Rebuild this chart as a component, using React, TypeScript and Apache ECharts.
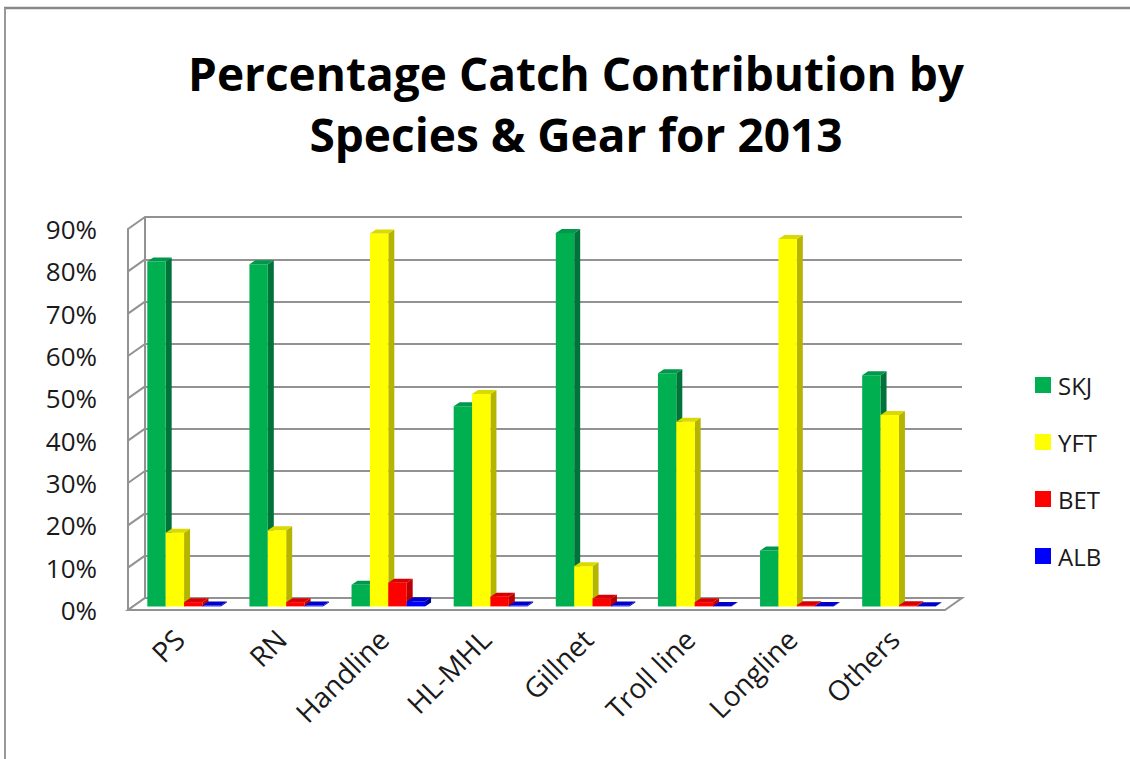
import React, { useEffect, useRef } from "react";
import * as echarts from "echarts";

const categories = ["PS", "RN", "Handline", "HL-MHL", "Gillnet", "Troll line", "Longline", "Others"];
const seriesNames = ["SKJ", "YFT", "BET", "ALB"];
const skj = [81.5, 80.8, 5.1, 47.3, 88.2, 55.1, 13.2, 54.6];
const yft = [17.4, 18.0, 88.1, 50.2, 9.5, 43.6, 86.8, 45.2];
const bet = [1.0, 1.0, 5.6, 2.3, 1.8, 1.0, 0.3, 0.3];
const alb = [0.2, 0.2, 1.2, 0.2, 0.2, 0.1, 0.1, 0.05];
const yTicks = [0, 10, 20, 30, 40, 50, 60, 70, 80, 90];

const faceColors = ["#00B050", "#FFFF00", "#FF0000", "#0000FF"];
const sideColors = ["#00733A", "#B5B500", "#B80000", "#0000A0"];
const topColors = ["#00984A", "#DADA00", "#D80000", "#0000C8"];

// layout
const FRONT_LEFT = 128;
const PLOT_W = 817;
const FRONT_TOP = 229;
const FRONT_H = 381;
const DEPTH_X = 17;
const DEPTH_Y = 12;
const BAR_DX = 5;
const BAR_DY = 3.6;
const SIDE_X = 6;
const SIDE_Y = 4;
const GRID_COLOR = "#929292";
const FONT = "'Open Sans', Lato, sans-serif";

export default function App() {
  const ref = useRef<HTMLDivElement>(null);
  useEffect(() => {
    document.body.style.margin = "0";
    const chart = echarts.init(ref.current!, undefined, { renderer: "svg" });
    const allValues = [skj, yft, bet, alb];

    const barSeries = allValues.map((vals, k) => ({
      type: "custom",
      name: seriesNames[k],
      xAxisIndex: 1,
      yAxisIndex: 1,
      itemStyle: { color: faceColors[k] },
      encode: { x: 0, y: 1 },
      data: vals.map((v, i) => [i, v]),
      z: 5,
      renderItem: (params: any, api: any) => {
        const i = api.value(0);
        const v = api.value(1);
        const base = api.coord([i, 0]);
        const top = api.coord([i, v]);
        const band = api.size([1, 0])[0];
        const bw = band * 0.18;
        const L = base[0] + BAR_DX - 2 * bw + k * bw;
        const R = L + bw;
        const by = base[1] - BAR_DY;
        const ty = top[1] - BAR_DY;
        return {
          type: "group",
          children: [
            {
              type: "polygon",
              shape: { points: [[R, ty], [R + SIDE_X, ty - SIDE_Y], [R + SIDE_X, by - SIDE_Y], [R, by]] },
              style: { fill: sideColors[k] },
            },
            {
              type: "rect",
              shape: { x: L, y: ty, width: bw, height: by - ty },
              style: { fill: faceColors[k] },
            },
            {
              type: "polygon",
              shape: { points: [[L, ty], [L + SIDE_X, ty - SIDE_Y], [R + SIDE_X, ty - SIDE_Y], [R, ty]] },
              style: { fill: topColors[k] },
            },
          ],
        };
      },
    }));

    const wallSeries = {
      type: "custom",
      xAxisIndex: 1,
      yAxisIndex: 1,
      silent: true,
      encode: { x: 0, y: 1 },
      data: yTicks.map((t) => [0, t]),
      z: 1,
      renderItem: (params: any, api: any) => {
        const t = api.value(1);
        const p = api.coord([0, t]);
        const band = api.size([1, 0])[0];
        const x = p[0] - band / 2;
        const children: any[] = [
          {
            type: "line",
            shape: { x1: x, y1: p[1], x2: x + DEPTH_X, y2: p[1] - DEPTH_Y },
            style: { stroke: GRID_COLOR, lineWidth: 2 },
          },
        ];
        if (t === 0) {
          const xr = x + band * categories.length;
          children.push({
            type: "polygon",
            shape: { points: [[x, p[1]], [x + DEPTH_X, p[1] - DEPTH_Y], [xr + DEPTH_X, p[1] - DEPTH_Y], [xr, p[1]]] },
            style: { fill: "#ffffff", stroke: GRID_COLOR, lineWidth: 2 },
          });
        }
        return { type: "group", children };
      },
    };

    chart.setOption({
      animation: false,
      backgroundColor: "#ffffff",
      title: {
        text: "Percentage Catch Contribution by\nSpecies & Gear for 2013",
        left: 571,
        top: 37,
        textAlign: "center",
        textStyle: { fontFamily: FONT, fontWeight: "bold", fontSize: 46, lineHeight: 61, color: "#000" },
      },
      legend: {
        orient: "vertical",
        left: 1030,
        top: 368,
        itemWidth: 16,
        itemHeight: 16,
        itemGap: 33,
        icon: "rect",
        data: seriesNames,
        textStyle: { fontFamily: FONT, fontSize: 24, color: "#1a1a1a", padding: [0, 0, 0, 2] },
      },
      graphic: [
        { type: "line", shape: { x1: 4, y1: 8, x2: 1130, y2: 8 }, style: { stroke: "#888", lineWidth: 2.5 } },
        { type: "line", shape: { x1: 5, y1: 8, x2: 5, y2: 759 }, style: { stroke: "#999", lineWidth: 2 } },
      ],
      grid: [
        { left: FRONT_LEFT + DEPTH_X, top: FRONT_TOP - DEPTH_Y, width: PLOT_W, height: FRONT_H },
        { left: FRONT_LEFT, top: FRONT_TOP, width: PLOT_W, height: FRONT_H },
      ],
      xAxis: [
        {
          type: "category",
          gridIndex: 0,
          data: categories,
          axisLine: { show: false },
          axisTick: { show: false },
          axisLabel: { show: false },
        },
        {
          type: "category",
          gridIndex: 1,
          data: categories,
          axisLine: { show: false },
          axisTick: { show: false },
          axisLabel: { rotate: 45, margin: 24, fontFamily: FONT, fontSize: 28, color: "#1a1a1a", interval: 0 },
        },
      ],
      yAxis: [
        {
          type: "value",
          gridIndex: 0,
          min: 0,
          max: 90,
          interval: 10,
          axisLine: { show: true, lineStyle: { color: GRID_COLOR, width: 2 } },
          axisTick: { show: false },
          axisLabel: { show: false },
          splitLine: { show: true, lineStyle: { color: GRID_COLOR, width: 2 } },
        },
        {
          type: "value",
          gridIndex: 1,
          min: 0,
          max: 90,
          interval: 10,
          axisLine: { show: true, lineStyle: { color: GRID_COLOR, width: 2 } },
          axisTick: { show: false },
          splitLine: { show: false },
          axisLabel: {
            margin: 31,
            formatter: "{value}%",
            fontFamily: FONT,
            fontSize: 26,
            color: "#1a1a1a",
          },
        },
      ],
      series: [wallSeries, ...barSeries],
    });
    return () => chart.dispose();
  }, []);
  return <div ref={ref} style={{ width: 1130, height: 759 }} />;
}
